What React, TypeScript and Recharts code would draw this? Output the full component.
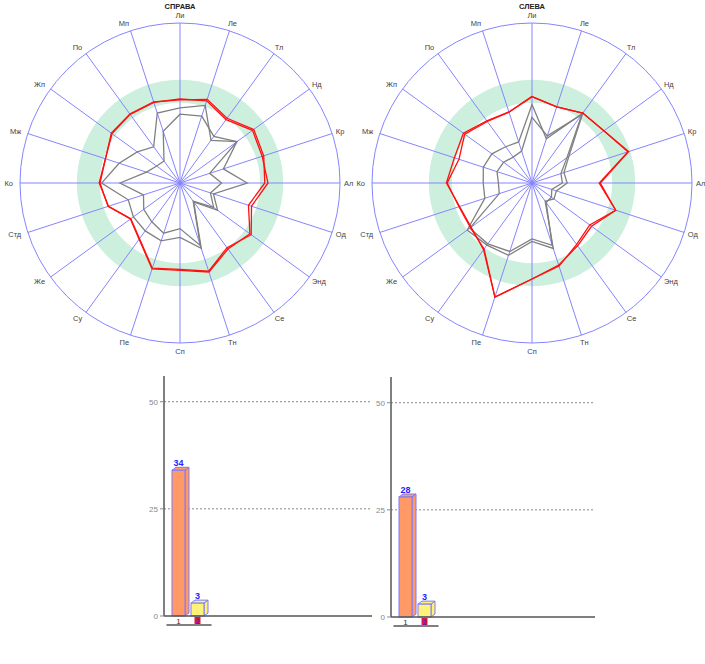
import {
  RadarChart, Radar, PolarGrid, PolarAngleAxis, PolarRadiusAxis,
  BarChart, Bar, XAxis, YAxis, CartesianGrid, Cell, LabelList,
} from 'recharts';

// axes of both radars, clockwise from the top
const AXES = ['Ли', 'Ле', 'Тл', 'Нд', 'Кр', 'Ал', 'Од', 'Энд', 'Се', 'Тн', 'Сп', 'Пе', 'Су', 'Же', 'Стд', 'Ко', 'Мж', 'Жп', 'По', 'Мп'];

// СПРАВА
const rightSideRed1 = [52, 55, 50, 57, 55, 53, 45, 54, 51, 58.5, 54.6, 56.5, 43.5, 38.3, 47.3, 50, 49, 53, 53.3, 53.3];
const rightSideRed2 = [52.5, 54, 49, 56, 54, 55, 47, 55, 50, 58, 54, 56, 43, 38, 47, 50.5, 49, 52.5, 53, 53];
const rightSideGray1 = [47, 51, 33, 44, 28.5, 42, 22, 29, 14.5, 43, 34, 38, 37, 36, 34, 49, 40, 33, 28, 46];
const rightSideGray2 = [43, 44, 36, 44, 19.5, 26, 20, 26, 14, 41, 28.5, 33, 30, 28, 24, 37.5, 22, 18, 17, 34];

// СЛЕВА
const leftSideRed1 = [54, 50, 54, 55.5, 63.5, 42.7, 55, 44.6, 47.5, 54.6, 60, 75, 51.5, 47, 47.6, 53.5, 51, 53, 48, 46.7];
const leftSideRed2 = [54, 50, 54, 55.5, 63, 42, 55, 46, 48.5, 54, 60, 75, 51, 47.5, 48, 53, 48, 52, 47.5, 46.5];
const leftSideGray1 = [49, 29, 54, 28.5, 21, 22, 16, 17, 14, 43, 36.5, 47.5, 48, 50, 31, 30.5, 32, 31, 28, 27];
const leftSideGray2 = [41, 31, 53, 27, 19, 19, 13, 15, 15, 41, 35, 45, 47, 48, 21.5, 21, 23, 22, 20, 21];

// bars
const barCategories = ['1', '2'];
const rightBarValues = [34, 3];
const leftBarValues = [28, 3];
const barColors = ['#FF9966', '#FFF27A'];
const yTicks = [0, 25, 50];
const gridValues = [25, 50];

const FONT = '"Liberation Sans", Arial, sans-serif';
const R = 160;

const radarData = (red1: number[], red2: number[], g1: number[], g2: number[]) =>
  AXES.map((axis, i) => ({ axis, red1: red1[i], red2: red2[i], g1: g1[i], g2: g2[i] }));

const AngleTick = (props: any) => {
  const { x, y, textAnchor, payload } = props;
  const dx = textAnchor === 'start' ? -4 : textAnchor === 'end' ? 1 : 0;
  return (
    <text x={x + dx} y={y} textAnchor={textAnchor} dominantBaseline="central" fontSize={7.5} fill="#444" fontFamily={FONT}>
      {payload.value}
    </text>
  );
};

const RadarPanel = ({ left, title, data }: any) => (
  <div style={{ position: 'absolute', left, top: 0, width: 360, height: 365 }}>
    <div style={{ position: 'absolute', top: 2, width: 360, textAlign: 'center', fontFamily: FONT, fontSize: 7.5, lineHeight: '9px', fontWeight: 'bold', color: '#222' }}>
      {title}
    </div>
    <RadarChart width={360} height={365} data={data} cx={180} cy={183} outerRadius={R} margin={{ top: 0, right: 0, bottom: 0, left: 0 }}>
      <PolarGrid gridType="circle" polarRadius={[R * 0.573]} radialLines={false} stroke="#cdefdd" strokeWidth={23} />
      <PolarGrid gridType="circle" polarRadius={[R]} stroke="#8585ff" strokeWidth={1} />
      <PolarAngleAxis dataKey="axis" tick={<AngleTick />} axisLine={false} tickLine={false} />
      <PolarRadiusAxis domain={[0, 100]} tick={false} axisLine={false} />
      <Radar dataKey="g1" stroke="#808080" strokeWidth={1.3} fill="none" fillOpacity={0} dot={false} isAnimationActive={false} />
      <Radar dataKey="g2" stroke="#808080" strokeWidth={1.3} fill="none" fillOpacity={0} dot={false} isAnimationActive={false} />
      <Radar dataKey="red1" stroke="#ff1010" strokeWidth={1.3} fill="none" fillOpacity={0} dot={false} isAnimationActive={false} />
      <Radar dataKey="red2" stroke="#ff1010" strokeWidth={1.3} fill="none" fillOpacity={0} dot={false} isAnimationActive={false} />
    </RadarChart>
  </div>
);

const Bar3D = (props: any) => {
  const { x, y, width, height, fill } = props;
  const d = 4, e = 3;
  const stroke = '#7a7aff';
  return (
    <g>
      <polygon points={`${x + width},${y} ${x + width + d},${y - e} ${x + width + d},${y + height - e} ${x + width},${y + height}`} fill={fill} stroke={stroke} />
      <polygon points={`${x},${y} ${x + d},${y - e} ${x + width + d},${y - e} ${x + width},${y}`} fill={fill} stroke={stroke} />
      <rect x={x} y={y} width={width} height={height} fill={fill} stroke={stroke} />
    </g>
  );
};

const BarTick = (props: any) => {
  const { x, y, index, payload } = props;
  if (index === 0) {
    return (
      <text x={x} y={y + 4} textAnchor="middle" dominantBaseline="central" fontSize={8} fill="#333" fontFamily={FONT}>
        {payload.value}
      </text>
    );
  }
  return (
    <g>
      <line x1={x - 31} x2={x + 14} y1={y + 8} y2={y + 8} stroke="#000" />
      <rect x={x - 3} y={y} width={6} height={7} fill="#d81a3a" />
      <text x={x} y={y + 4} textAnchor="middle" dominantBaseline="central" fontSize={7} fill="#2020ff" fontFamily={FONT}>
        {payload.value}
      </text>
    </g>
  );
};

const BarPanel = ({ left, top, values, padRight, marginRight }: any) => {
  const data = barCategories.map((name, i) => ({ name, value: values[i] }));
  return (
    <div style={{ position: 'absolute', left, top }}>
      <BarChart width={290} height={290} data={data} margin={{ top: 16, right: marginRight, bottom: 4, left: 0 }}>
        <CartesianGrid vertical={false} horizontalValues={gridValues} stroke="#888" strokeDasharray="2 2" />
        <XAxis dataKey="name" axisLine={{ stroke: '#555', strokeWidth: 1.5 }} tickLine={false} tickSize={0} tickMargin={1}
          height={30} padding={{ left: 5, right: padRight }} tick={<BarTick />} interval={0} />
        <YAxis width={64} domain={[0, 56]} ticks={yTicks} axisLine={{ stroke: '#555', strokeWidth: 1.5 }}
          tickLine={{ stroke: '#888' }} tickSize={4} tick={{ fontSize: 8, fill: '#888', fontFamily: FONT }} />
        <Bar dataKey="value" barSize={13} shape={<Bar3D />} isAnimationActive={false}>
          {data.map((_, i) => <Cell key={`c-${i}`} fill={barColors[i]} />)}
          <LabelList dataKey="value" position="top" offset={4} fill="#2424ff" fontSize={9} fontWeight="bold" fontFamily={FONT} />
        </Bar>
      </BarChart>
    </div>
  );
};

export default function App() {
  return (
    <div style={{ position: 'absolute', left: 0, top: 0, width: 705, height: 664, background: '#fff' }}>
      <RadarPanel left={0} title="СПРАВА" data={radarData(rightSideRed1, rightSideRed2, rightSideGray1, rightSideGray2)} />
      <RadarPanel left={352} title="СЛЕВА" data={radarData(leftSideRed1, leftSideRed2, leftSideGray1, leftSideGray2)} />
      <BarPanel left={100} top={360} values={rightBarValues} padRight={165} marginRight={18} />
      <BarPanel left={327} top={361} values={leftBarValues} padRight={161} marginRight={22} />
    </div>
  );
}
